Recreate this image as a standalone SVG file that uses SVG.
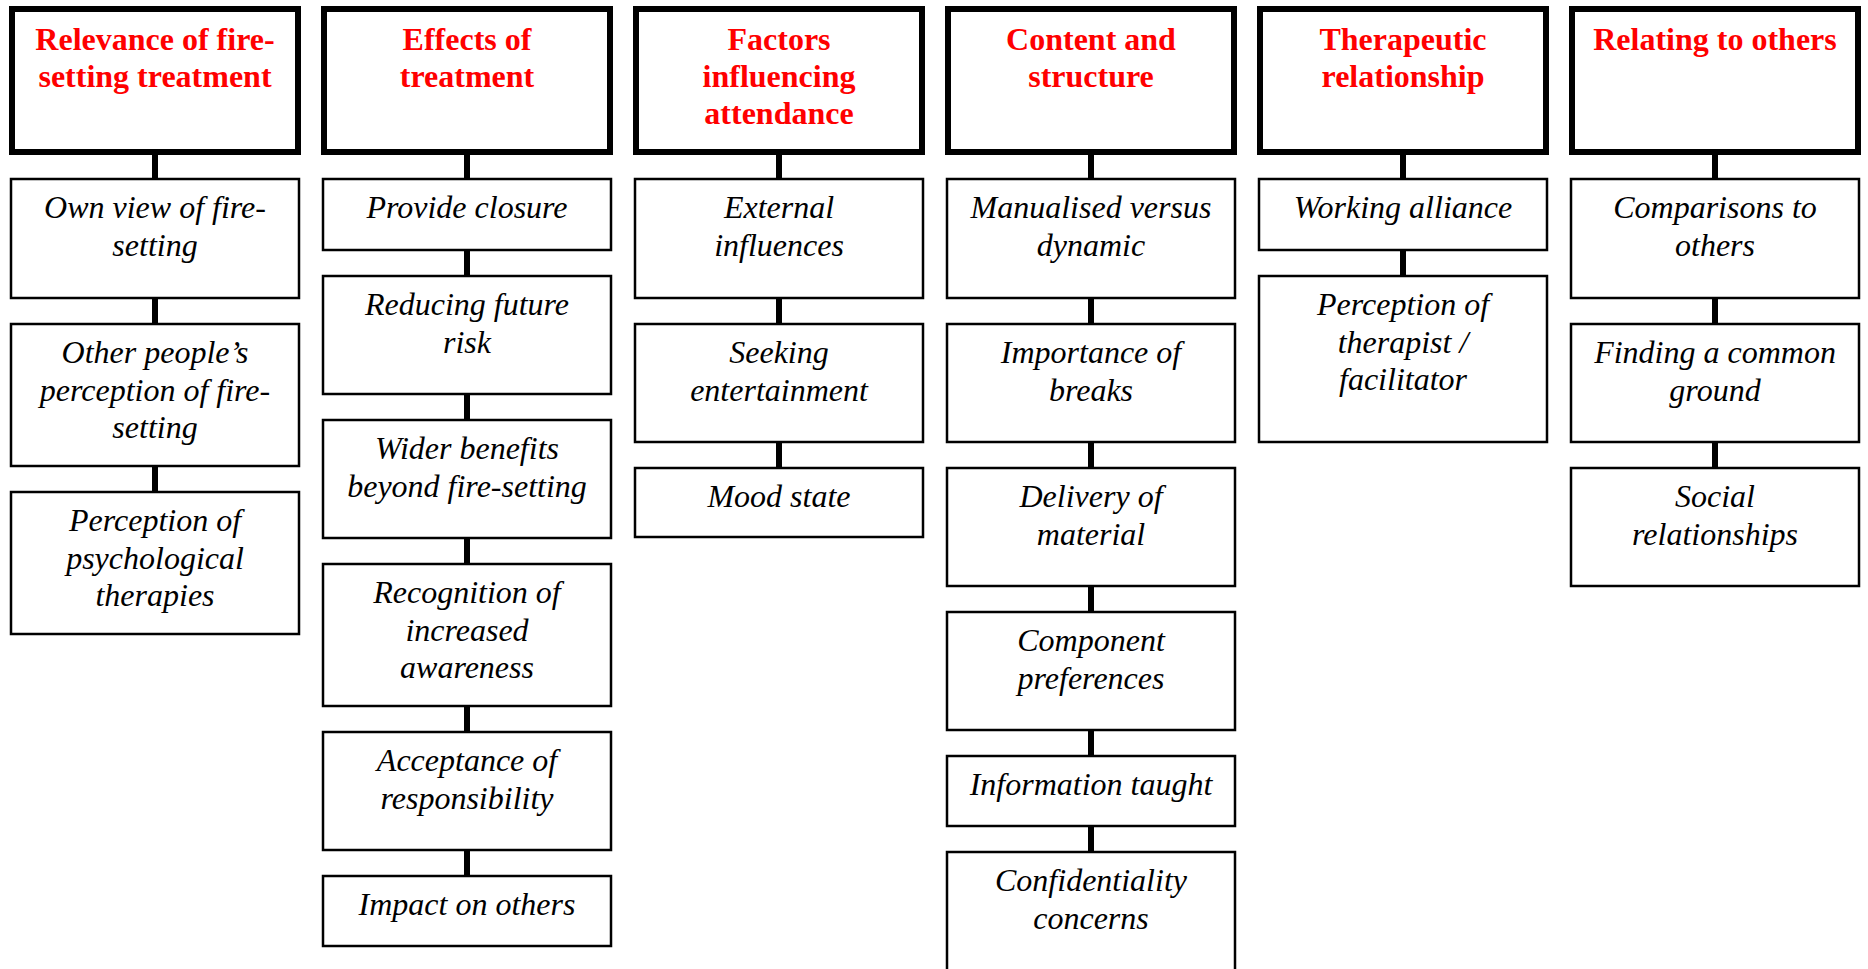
<svg xmlns="http://www.w3.org/2000/svg" width="1868" height="969" viewBox="0 0 1868 969">
<style>
.h rect{fill:#fff;stroke:#000;stroke-width:6}
.h text{font-family:'Liberation Serif','DejaVu Serif',serif;font-weight:bold;font-size:32px;fill:#f00;text-anchor:middle}
.c rect{fill:#fff;stroke:#000;stroke-width:2.5}
.c text{font-family:'Liberation Serif','DejaVu Serif',serif;font-style:italic;font-size:32px;fill:#000;text-anchor:middle}
.conn line{stroke:#000;stroke-width:6}
</style>
<rect width="1868" height="969" fill="#fff"/>
<g class="conn">
<line x1="155" y1="155" x2="155" y2="178"/><line x1="155" y1="299" x2="155" y2="323"/><line x1="155" y1="467" x2="155" y2="491"/>
<line x1="467" y1="155" x2="467" y2="178"/><line x1="467" y1="251" x2="467" y2="275"/><line x1="467" y1="395" x2="467" y2="419"/><line x1="467" y1="539" x2="467" y2="563"/><line x1="467" y1="707" x2="467" y2="731"/><line x1="467" y1="851" x2="467" y2="875"/>
<line x1="779" y1="155" x2="779" y2="178"/><line x1="779" y1="299" x2="779" y2="323"/><line x1="779" y1="443" x2="779" y2="467"/>
<line x1="1091" y1="155" x2="1091" y2="178"/><line x1="1091" y1="299" x2="1091" y2="323"/><line x1="1091" y1="443" x2="1091" y2="467"/><line x1="1091" y1="587" x2="1091" y2="611"/><line x1="1091" y1="731" x2="1091" y2="755"/><line x1="1091" y1="827" x2="1091" y2="851"/>
<line x1="1403" y1="155" x2="1403" y2="178"/><line x1="1403" y1="251" x2="1403" y2="275"/>
<line x1="1715" y1="155" x2="1715" y2="178"/><line x1="1715" y1="299" x2="1715" y2="323"/><line x1="1715" y1="443" x2="1715" y2="467"/>
</g>
<g id="h1" class="h"><rect x="12" y="9" width="286" height="143"/><text font-family="Liberation Serif, serif"><tspan x="155" y="50">Relevance of fire-</tspan><tspan x="155" y="87">setting treatment</tspan></text></g>
<g id="h2" class="h"><rect x="324" y="9" width="286" height="143"/><text font-family="Liberation Serif, serif"><tspan x="467" y="50">Effects of</tspan><tspan x="467" y="87">treatment</tspan></text></g>
<g id="h3" class="h"><rect x="636" y="9" width="286" height="143"/><text font-family="Liberation Serif, serif"><tspan x="779" y="50">Factors</tspan><tspan x="779" y="87">influencing</tspan><tspan x="779" y="124">attendance</tspan></text></g>
<g id="h4" class="h"><rect x="948" y="9" width="286" height="143"/><text font-family="Liberation Serif, serif"><tspan x="1091" y="50">Content and</tspan><tspan x="1091" y="87">structure</tspan></text></g>
<g id="h5" class="h"><rect x="1260" y="9" width="286" height="143"/><text font-family="Liberation Serif, serif"><tspan x="1403" y="50">Therapeutic</tspan><tspan x="1403" y="87">relationship</tspan></text></g>
<g id="h6" class="h"><rect x="1572" y="9" width="286" height="143"/><text font-family="Liberation Serif, serif"><tspan x="1715" y="50">Relating to others</tspan></text></g>

<g id="c1a" class="c"><rect x="11" y="179" width="288" height="119"/><text><tspan x="155" y="218">Own view of fire-</tspan><tspan x="155" y="255.5">setting</tspan></text></g>
<g id="c1b" class="c"><rect x="11" y="324" width="288" height="142"/><text><tspan x="155" y="363">Other people’s</tspan><tspan x="155" y="400.5">perception of fire-</tspan><tspan x="155" y="438">setting</tspan></text></g>
<g id="c1c" class="c"><rect x="11" y="492" width="288" height="142"/><text><tspan x="155" y="531">Perception of</tspan><tspan x="155" y="568.5">psychological</tspan><tspan x="155" y="606">therapies</tspan></text></g>

<g id="c2a" class="c"><rect x="323" y="179" width="288" height="71"/><text><tspan x="467" y="218">Provide closure</tspan></text></g>
<g id="c2b" class="c"><rect x="323" y="276" width="288" height="118"/><text><tspan x="467" y="315">Reducing future</tspan><tspan x="467" y="352.5">risk</tspan></text></g>
<g id="c2c" class="c"><rect x="323" y="420" width="288" height="118"/><text><tspan x="467" y="459">Wider benefits</tspan><tspan x="467" y="496.5">beyond fire-setting</tspan></text></g>
<g id="c2d" class="c"><rect x="323" y="564" width="288" height="142"/><text><tspan x="467" y="603">Recognition of</tspan><tspan x="467" y="640.5">increased</tspan><tspan x="467" y="678">awareness</tspan></text></g>
<g id="c2e" class="c"><rect x="323" y="732" width="288" height="118"/><text><tspan x="467" y="771">Acceptance of</tspan><tspan x="467" y="808.5">responsibility</tspan></text></g>
<g id="c2f" class="c"><rect x="323" y="876" width="288" height="70"/><text><tspan x="467" y="915">Impact on others</tspan></text></g>

<g id="c3a" class="c"><rect x="635" y="179" width="288" height="119"/><text><tspan x="779" y="218">External</tspan><tspan x="779" y="255.5">influences</tspan></text></g>
<g id="c3b" class="c"><rect x="635" y="324" width="288" height="118"/><text><tspan x="779" y="363">Seeking</tspan><tspan x="779" y="400.5">entertainment</tspan></text></g>
<g id="c3c" class="c"><rect x="635" y="468" width="288" height="69"/><text><tspan x="779" y="507">Mood state</tspan></text></g>

<g id="c4a" class="c"><rect x="947" y="179" width="288" height="119"/><text><tspan x="1091" y="218">Manualised versus</tspan><tspan x="1091" y="255.5">dynamic</tspan></text></g>
<g id="c4b" class="c"><rect x="947" y="324" width="288" height="118"/><text><tspan x="1091" y="363">Importance of</tspan><tspan x="1091" y="400.5">breaks</tspan></text></g>
<g id="c4c" class="c"><rect x="947" y="468" width="288" height="118"/><text><tspan x="1091" y="507">Delivery of</tspan><tspan x="1091" y="544.5">material</tspan></text></g>
<g id="c4d" class="c"><rect x="947" y="612" width="288" height="118"/><text><tspan x="1091" y="651">Component</tspan><tspan x="1091" y="688.5">preferences</tspan></text></g>
<g id="c4e" class="c"><rect x="947" y="756" width="288" height="70"/><text><tspan x="1091" y="795">Information taught</tspan></text></g>
<g id="c4f" class="c"><rect x="947" y="852" width="288" height="140"/><text><tspan x="1091" y="891">Confidentiality</tspan><tspan x="1091" y="928.5">concerns</tspan></text></g>

<g id="c5a" class="c"><rect x="1259" y="179" width="288" height="71"/><text><tspan x="1403" y="218">Working alliance</tspan></text></g>
<g id="c5b" class="c"><rect x="1259" y="276" width="288" height="166"/><text><tspan x="1403" y="315">Perception of</tspan><tspan x="1403" y="352.5">therapist /</tspan><tspan x="1403" y="390">facilitator</tspan></text></g>

<g id="c6a" class="c"><rect x="1571" y="179" width="288" height="119"/><text><tspan x="1715" y="218">Comparisons to</tspan><tspan x="1715" y="255.5">others</tspan></text></g>
<g id="c6b" class="c"><rect x="1571" y="324" width="288" height="118"/><text><tspan x="1715" y="363">Finding a common</tspan><tspan x="1715" y="400.5">ground</tspan></text></g>
<g id="c6c" class="c"><rect x="1571" y="468" width="288" height="118"/><text><tspan x="1715" y="507">Social</tspan><tspan x="1715" y="544.5">relationships</tspan></text></g>
</svg>
